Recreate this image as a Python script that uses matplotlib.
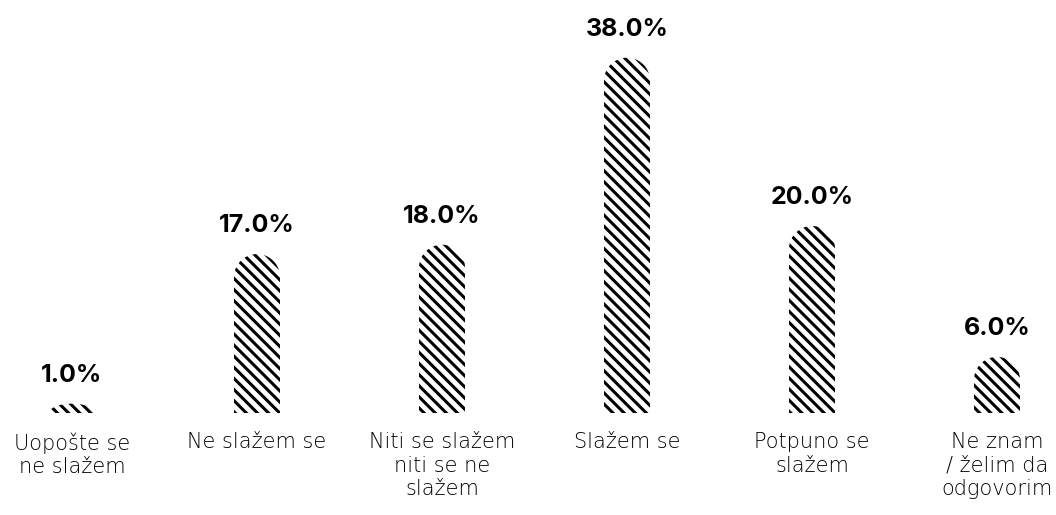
import numpy as np
import matplotlib
matplotlib.use('Agg')
import matplotlib.pyplot as plt
from matplotlib.path import Path
from matplotlib.patches import PathPatch

# ── Data ────────────────────────────────────────────────────────────────────
categories = ['Uopošte se\nne slažem', 'Ne slažem se', 'Niti se slažem\nniti se ne\nslažem',
              'Slažem se', 'Potpuno se\nslažem', 'Ne znam\n/ želim da\nodgovorim']
values = [1.0, 17.0, 18.0, 38.0, 20.0, 6.0]

# ── Style ───────────────────────────────────────────────────────────────────
plt.rcParams['font.family'] = ['DejaVu Sans']
plt.rcParams['hatch.linewidth'] = 2.2

W, H, DPI = 1056, 515, 100
fig = plt.figure(figsize=(W / DPI, H / DPI), dpi=DPI)
bottom_px = 102
ax = fig.add_axes([0, bottom_px / H, 1, 1 - bottom_px / H])

px_x = 185.0          # pixels per category
px_y = 9.35           # pixels per percent
ax.set_xlim(-72 / px_x, (W - 72) / px_x)
ax.set_ylim(0, (H - bottom_px) / px_y)
ax.axis('off')

bar_w = 46 / px_x
rx = bar_w / 2
ry = 23 / px_y


def rounded_bar(xc, h):
    """Bar with a semicircular top (round in pixels)."""
    r_y = min(ry, h)
    t = np.linspace(0, np.pi, 40)
    arc_x = xc + rx * np.cos(t)
    arc_y = (h - r_y) + r_y * np.sin(t)
    xs = np.concatenate([[xc + rx], arc_x, [xc - rx, xc + rx]])
    ys = np.concatenate([[0], arc_y, [0, 0]])
    verts = np.column_stack([xs, ys])
    codes = [Path.MOVETO] + [Path.LINETO] * (len(verts) - 2) + [Path.CLOSEPOLY]
    return PathPatch(Path(verts, codes), facecolor='white', edgecolor='black',
                     hatch='\\\\\\', lw=0)


for i, (cat, v) in enumerate(zip(categories, values)):
    ax.add_patch(rounded_bar(i, v))
    ax.annotate(f'{v:.1f}%', xy=(i, v), xytext=(0, 12), textcoords='offset points',
                ha='center', va='bottom', fontsize=18, fontweight='bold',
                family=['Inter', 'DejaVu Sans'])
    ax.annotate(cat, xy=(i, 0), xytext=(0, -14), textcoords='offset points',
                ha='center', va='top', fontsize=15, color='black',
                fontweight='light', linespacing=1.2, annotation_clip=False)

fig.savefig('out.png', dpi=DPI, facecolor='white')
